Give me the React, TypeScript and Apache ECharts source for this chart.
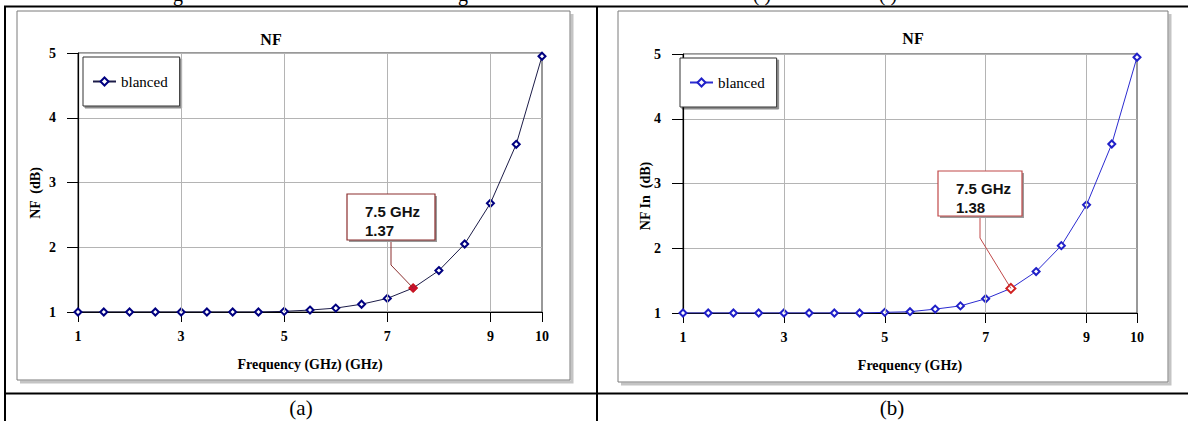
import React, { useEffect, useRef } from "react";
import * as echarts from "echarts";

const freq = [1, 1.5, 2, 2.5, 3, 3.5, 4, 4.5, 5, 5.5, 6, 6.5, 7, 7.5, 8, 8.5, 9, 9.5, 10];
const nfA = [1, 1, 1, 1, 1, 1, 1, 1, 1.01, 1.03, 1.06, 1.12, 1.21, 1.37, 1.64, 2.05, 2.68, 3.59, 4.95];
const nfB = [1, 1, 1, 1, 1, 1, 1, 1, 1.01, 1.02, 1.06, 1.11, 1.22, 1.38, 1.64, 2.04, 2.67, 3.61, 4.95];
const xTickValues = [1, 3, 5, 7, 9, 10];
const xGridValues = [3, 5, 7, 9];
const markerFreq = 7.5;
const markerA = 1.37;
const markerB = 1.38;
const legendName = "blanced";
const titles = ["NF", "NF"];
const yNames = ["NF  (dB)", "NF In  (dB)"];
const xNames = ["Frequency (GHz) (GHz)", "Frequency (GHz)"];
const captions = ["(a)", "(b)"];

const SERIF = "'Liberation Serif', 'Times New Roman', serif";
const SANS = "'Liberation Sans', Arial, sans-serif";

export default function App() {
  const ref = useRef<HTMLDivElement>(null);
  useEffect(() => {
    if (!ref.current) return;
    const chart = echarts.init(ref.current, undefined, { renderer: "svg" });

    const grids = [
      { left: 78, top: 53, width: 464, height: 259 },
      { left: 683, top: 54, width: 454, height: 259 },
    ];
    const lineColors = ["#1c1c48", "#2b2bd0"];
    const markColors = ["#000080", "#2020c8"];

    const xAxes = grids.map((_, i) => ({
      type: "value",
      gridIndex: i,
      min: 1,
      max: 10,
      name: xNames[i],
      nameLocation: "middle",
      nameGap: 45,
      nameTextStyle: { fontFamily: SERIF, fontWeight: "bold", fontSize: 14, color: "#000" },
      axisLine: { show: true, lineStyle: { color: "#000", width: 1.2 } },
      axisTick: { show: true, customValues: xTickValues, length: 10, lineStyle: { color: "#000" } },
      axisLabel: {
        customValues: xTickValues,
        fontFamily: SERIF,
        fontWeight: "bold",
        fontSize: 14,
        color: "#000",
        margin: 17,
      },
      splitLine: { show: false },
    }));

    const yAxes = grids.map((_, i) => ({
      type: "value",
      gridIndex: i,
      min: 1,
      max: 5,
      interval: 1,
      axisLine: { show: true, lineStyle: { color: "#000", width: 1.2 } },
      axisTick: { show: true, length: 11, lineStyle: { color: "#000" } },
      axisLabel: {
        fontFamily: SERIF,
        fontWeight: "bold",
        fontSize: 14,
        color: "#000",
        margin: 22,
      },
      splitLine: { show: true, lineStyle: { color: "#b4b4b4", width: 1 } },
    }));

    const vals = [nfA, nfB];
    const mainSeries = [0, 1].map((i) => ({
      type: "line",
      name: legendName + i,
      xAxisIndex: i,
      yAxisIndex: i,
      z: 3,
      symbol: "emptyDiamond",
      symbolSize: 7,
      lineStyle: { color: lineColors[i], width: 1 },
      itemStyle: { color: markColors[i], borderWidth: 1 },
      data: freq.map((f, k) => {
        if (f === markerFreq) {
          return {
            value: [f, vals[i][k]],
            symbol: i === 0 ? "diamond" : "emptyDiamond",
            symbolSize: 9,
            itemStyle: { color: i === 0 ? "#c8102e" : "#d02020", borderColor: "#c00000" },
          };
        }
        return [f, vals[i][k]];
      }),
    }));
    const gridSeries = [0, 1].map((i) => ({
      type: "line",
      name: "grid" + i,
      xAxisIndex: i,
      yAxisIndex: i,
      z: 1,
      data: [],
      markLine: {
        silent: true,
        symbol: ["none", "none"],
        label: { show: false },
        lineStyle: { color: "#b4b4b4", type: "solid", width: 1 },
        data: xGridValues.map((v) => ({ xAxis: v })),
      },
    }));

    const legendPos = [
      { left: 83, top: 57 },
      { left: 680, top: 58 },
    ];
    const legends = [0, 1].map((i) => ({
      ...legendPos[i],
      data: [legendName + i],
      formatter: () => legendName,
      orient: "vertical",
      padding: [17, 12, 17, 9],
      itemWidth: 23,
      itemHeight: 10,
      backgroundColor: "#fff",
      borderColor: "#333",
      borderWidth: 1,
      shadowColor: "rgba(0,0,0,0.45)",
      shadowBlur: 0,
      shadowOffsetX: 2,
      shadowOffsetY: 2,
      selectedMode: false,
      textStyle: { fontFamily: SERIF, fontSize: 15, color: "#000" },
    }));

    chart.setOption({
      animation: false,
      backgroundColor: "#fff",
      grid: grids.map((g) => ({ ...g, show: true, borderColor: "#333", borderWidth: 1, backgroundColor: "transparent" })),
      xAxis: xAxes,
      yAxis: yAxes,
      legend: legends,
      series: [...gridSeries, ...mainSeries],
    });

    const pA = chart.convertToPixel({ gridIndex: 0 }, [markerFreq, markerA]) as number[];
    const pB = chart.convertToPixel({ gridIndex: 1 }, [markerFreq, markerB]) as number[];

    const frame = (x1: number, y1: number, x2: number, y2: number) => [
      {
        type: "polyline",
        silent: true,
        shape: { points: [[x2 + 2, y1 + 3], [x2 + 2, y2 + 2], [x1 + 3, y2 + 2]] },
        style: { stroke: "#c4c4c4", lineWidth: 3, fill: null },
        z: -2,
      },
      {
        type: "rect",
        silent: true,
        shape: { x: x1, y: y1, width: x2 - x1, height: y2 - y1 },
        style: { stroke: "#7a7a7a", lineWidth: 1, fill: null },
        z: -1,
      },
    ];

    const annot = (bx: number, by: number, bw: number, bh: number, ax: number, ay: number, p: number[], color: string, val: number) => [
      {
        type: "polyline",
        shape: { points: [[ax, by + bh], [ax, ay], [p[0], p[1]]] },
        style: { stroke: color, lineWidth: 1, fill: null },
        z: 10,
      },
      {
        type: "rect",
        shape: { x: bx + 2, y: by + 2, width: bw, height: bh },
        style: { fill: "#9a9a9a", stroke: null },
        z: 10,
      },
      {
        type: "rect",
        shape: { x: bx, y: by, width: bw, height: bh },
        style: { fill: "#fff", stroke: color, lineWidth: 1.2 },
        z: 11,
      },
      {
        type: "text",
        x: bx + 18,
        y: by + 17,
        style: { text: markerFreq + " GHz", font: "bold 15px " + SANS, fill: "#111", verticalAlign: "middle" },
        z: 12,
      },
      {
        type: "text",
        x: bx + 18,
        y: by + 36,
        style: { text: val.toFixed(2), font: "bold 15px " + SANS, fill: "#111", verticalAlign: "middle" },
        z: 12,
      },
    ];

    const txt = (x: number, y: number, text: string, font: string, extra: any = {}) => ({
      type: "text",
      x,
      y,
      silent: true,
      style: { text, font, fill: "#000", align: "center", verticalAlign: "middle", ...extra },
    });

    const elements: any[] = [
      // table borders
      { type: "line", silent: true, shape: { x1: 4, y1: 6.5, x2: 1188, y2: 6.5 }, style: { stroke: "#000", lineWidth: 2 } },
      { type: "line", silent: true, shape: { x1: 5, y1: 6, x2: 5, y2: 421 }, style: { stroke: "#000", lineWidth: 2 } },
      { type: "line", silent: true, shape: { x1: 597, y1: 6, x2: 597, y2: 421 }, style: { stroke: "#000", lineWidth: 2 } },
      { type: "line", silent: true, shape: { x1: 4, y1: 393.5, x2: 1188, y2: 393.5 }, style: { stroke: "#000", lineWidth: 2 } },
      // clipped caption line above the table (only descenders visible, as in the reference)
      txt(178, 4, "g", "20px " + SERIF, { verticalAlign: "bottom" }),
      txt(463, 4, "g", "20px " + SERIF, { verticalAlign: "bottom" }),
      txt(762, 4, "( )", "20px " + SERIF, { verticalAlign: "bottom" }),
      txt(888, 4, "( )", "20px " + SERIF, { verticalAlign: "bottom" }),
      // chart frames
      ...frame(17, 11, 570, 380),
      ...frame(618, 11, 1168, 382),
      // titles
      txt(271, 39, titles[0], "bold 16px " + SERIF),
      txt(913, 38, titles[1], "bold 16px " + SERIF),
      // y axis names
      { ...txt(35, 193, yNames[0], "bold 14px " + SERIF), rotation: Math.PI / 2 },
      { ...txt(645, 196, yNames[1], "bold 14px " + SERIF), rotation: Math.PI / 2 },
      // captions
      txt(301, 408, captions[0], "21px " + SERIF),
      txt(892, 408, captions[1], "21px " + SERIF),
      // annotations
      ...annot(347, 194, 88, 46, 391, 265, pA, "#8b2e2e", markerA),
      ...annot(938, 171, 84, 45, 980, 238, pB, "#c04848", markerB),
    ];

    chart.setOption({ graphic: { elements } });

    return () => chart.dispose();
  }, []);

  return (
    <div
      ref={ref}
      style={{ position: "absolute", left: 0, top: 0, width: 1188, height: 421, background: "#fff" }}
    />
  );
}
